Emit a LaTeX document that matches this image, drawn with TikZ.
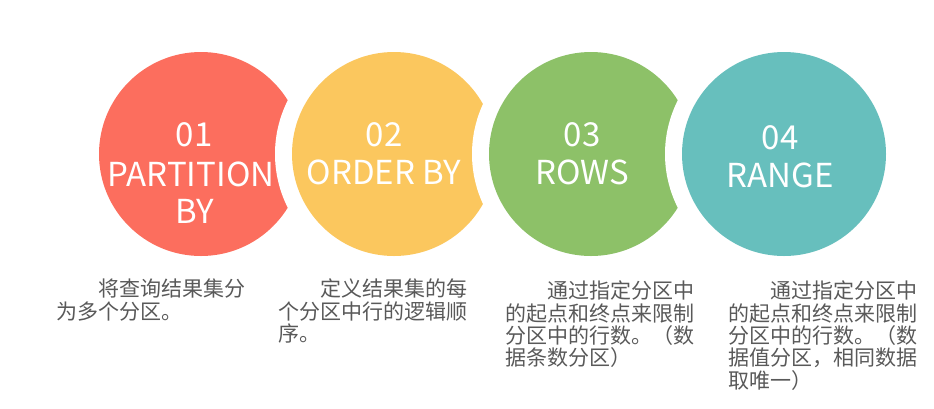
\documentclass[tikz,border=0pt]{standalone}
\usepackage{fontspec}
\setmainfont{Noto Sans CJK SC}
\definecolor{cred}{RGB}{252,110,94}
\definecolor{cyel}{RGB}{251,199,94}
\definecolor{cgrn}{RGB}{141,193,104}
\definecolor{ctea}{RGB}{103,191,189}
\definecolor{capgray}{RGB}{89,89,89}
\tikzset{
  disc/.style={circle, inner sep=0pt, minimum size=204pt},
  gap/.style={circle, inner sep=0pt, minimum size=238pt, fill=white},
  title/.style={anchor=base, inner sep=0pt, text=white, font=\fontsize{33}{38}\selectfont},
  caption/.style={anchor=north west, inner sep=0pt, align=left, text=capgray, font=\fontsize{21}{22.3}\selectfont}
}
\begin{document}
\begin{tikzpicture}[x=1pt,y=-1pt]
\useasboundingbox (0,0) rectangle (934,408);
% circles with white bites
\node[disc, fill=cred] (c1) at (201,154) {};
\node[gap] (g2) at (394,154) {};
\node[disc, fill=cyel] (c2) at (394,154) {};
\node[gap] (g3) at (591,154) {};
\node[disc, fill=cgrn] (c3) at (591,154) {};
\node[gap] (g4) at (784,154) {};
\node[disc, fill=ctea] (c4) at (784,154) {};
% titles
\node[title] (n1) at (194,146) {01};
\node[title] (p1) at (191,186) {PARTITION};
\node[title] (b1) at (195,223) {BY};
\node[title] (n2) at (384,146) {02};
\node[title] (p2) at (384,184) {ORDER BY};
\node[title] (n3) at (582,146) {03};
\node[title] (p3) at (582,184) {ROWS};
\node[title] (n4) at (780,149) {04};
\node[title] (p4) at (780,187) {RANGE};
% captions
\node[caption] (t1) at (56,279) {\hspace*{2em}将查询结果集分\\为多个分区。};
\node[caption] (t2) at (278,279) {\hspace*{2em}定义结果集的每\\个分区中行的逻辑顺\\序。};
\node[caption] (t3) at (505,281) {\hspace*{2em}通过指定分区中\\的起点和终点来限制\\分区中的行数。（数\\据条数分区）};
\node[caption] (t4) at (728,281) {\hspace*{2em}通过指定分区中\\的起点和终点来限制\\分区中的行数。（数\\据值分区，相同数据\\取唯一）};
\end{tikzpicture}
\end{document}
